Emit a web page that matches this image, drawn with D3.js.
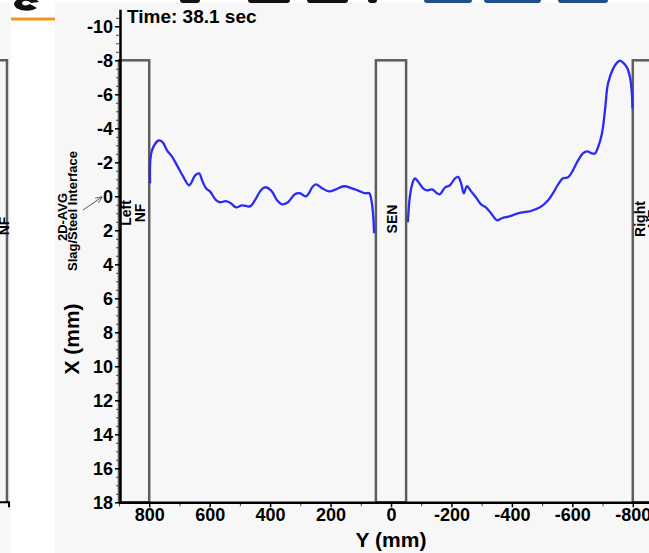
<!DOCTYPE html>
<html>
<head>
<meta charset="utf-8">
<script src="https://cdn.jsdelivr.net/npm/d3@7"></script>
<style>
  body { margin: 0; background: #fff; }
  svg { display: block; font-family: "Liberation Sans", Arial, sans-serif; }
</style>
</head>
<body>
<div id="chart"></div>
<script>
// chart size (window is 649 x 553)
const width = 649;
const height = 553;

// slag/steel interface, left half (Y in mm, X in mm)
const leftY = [797, 791, 768, 755, 741, 725, 708, 688, 668, 648, 635, 625, 612, 599, 579,
  566, 546, 530, 513, 493, 466, 450, 433, 417, 397, 377, 361, 341, 318, 302,
  281, 258, 248, 228, 205, 182, 156, 129, 110, 86, 72, 66, 59, 56];
const leftX = [-0.76, -2.70, -3.29, -3.17, -2.70, -2.35, -1.82, -1.17, -0.65, -1.23, -1.35, -0.94, -0.47, -0.29, 0.23,
  0.35, 0.29, 0.41, 0.65, 0.53, 0.59, 0.23, -0.29, -0.53, -0.35, 0.23, 0.47, 0.35, -0.12, -0.18,
  0, -0.59, -0.70, -0.47, -0.29, -0.41, -0.59, -0.47, -0.35, -0.18, -0.18, 0.12, 1.12, 2.17];

// right half
const rightY = [-56, -63, -73, -79, -89, -106, -119, -136, -152, -162, -179, -195, -212, -222, -232,
  -241, -251, -265, -281, -298, -314, -331, -351, -367, -394, -420, -437, -460, -493, -520,
  -536, -553, -569, -586, -602, -619, -635, -649, -665, -675, -685, -698, -708, -718, -735,
  -748, -758, -768, -781, -791, -797, -799];
const rightX = [1.53, -0.06, -0.88, -1.06, -0.88, -0.47, -0.35, -0.41, -0.18, -0.12, -0.53, -0.65, -1.06, -1.14, -0.76,
  -0.18, -0.59, -0.29, 0.06, 0.47, 0.65, 1.00, 1.41, 1.29, 1.17, 1.00, 0.94, 0.88, 0.65, 0.23,
  -0.18, -0.70, -1.06, -1.12, -1.53, -2.11, -2.52, -2.64, -2.52, -2.52, -2.88, -3.70, -5.05, -6.63, -7.51,
  -7.86, -7.98, -7.86, -7.57, -6.98, -6.04, -5.16];

// nozzle / narrow face boxes (Y range) and their labels
const boxStart = [900, 50, -800];
const boxEnd = [800, -50, -900];
const boxTop = -8;
const boxLabels = [["Left", "NF"], ["SEN"], ["Right", "NF"]];

// tick labels
const xTicks = [800, 600, 400, 200, 0, -200, -400, -600, -800];
const yTicks = [-10, -8, -6, -4, -2, 0, 2, 4, 6, 8, 10, 12, 14, 16, 18];

const svg = d3.select("#chart")
  .append("svg")
  .attr("width", width)
  .attr("height", height);

// page bits around the chart
svg.append("rect").attr("x", 0).attr("y", 0).attr("width", width).attr("height", height).attr("fill", "#fff");
svg.append("rect").attr("x", 0).attr("y", 3).attr("width", 11).attr("height", height).attr("fill", "#f7f7f7");
svg.append("rect").attr("x", 55).attr("y", 3).attr("width", width - 55).attr("height", height).attr("fill", "#f7f7f7");
svg.append("rect").attr("x", 11).attr("y", 17.5).attr("width", 44).attr("height", 3).attr("fill", "#f7931e");
svg.append("path").attr("d", "M39,2 C35,-4 15,-4 14,4 C15,12 32,12 37,8 L30,4 C27,6 22,6 22,3 C23,0 28,0 31,3 Z").attr("fill", "#111");
[[180, 20], [248, 42], [307, 41], [368, 9]].forEach(b => {
  svg.append("rect").attr("x", b[0]).attr("y", -4).attr("width", b[1]).attr("height", 7).attr("rx", 3).attr("fill", "#111");
});
[[424, 48], [484, 57], [558, 50]].forEach(b => {
  svg.append("rect").attr("x", b[0]).attr("y", -4).attr("width", b[1]).attr("height", 7).attr("rx", 3).attr("fill", "#1f4e89");
});

// scales
const x = d3.scaleLinear().domain([900, -900]).range([119, 663]);
const y = d3.scaleLinear().domain([-11, 18]).range([9.3, 502.3]);

// previous chart peeking in on the left
svg.append("path").attr("d", `M0,${y(boxTop)} H7 V${y(18)}`)
  .attr("fill", "none").attr("stroke", "#5e5e5e").attr("stroke-width", 2.5);
svg.append("path").attr("d", `M0,${y(18)} H10 M9,${y(18)} V${y(18) + 5}`)
  .attr("fill", "none").attr("stroke", "#000").attr("stroke-width", 2);
svg.append("text").attr("transform", `translate(9,226) rotate(-90)`)
  .attr("text-anchor", "middle").attr("font-size", 14).attr("font-weight", "bold").text("NF");

// boxes
svg.selectAll(".box")
  .data(boxStart)
  .enter()
  .append("rect")
    .attr("class", "box")
    .attr("x", (d, i) => x(d))
    .attr("y", y(boxTop))
    .attr("width", (d, i) => x(boxEnd[i]) - x(d))
    .attr("height", y(18) - y(boxTop))
    .attr("fill", "none")
    .attr("stroke", "#5e5e5e")
    .attr("stroke-width", 2.5);

// box labels (rotated, stacked)
boxStart.forEach((d, i) => {
  const lines = boxLabels[i];
  const cx = (i === 1) ? x(0) + 6 : x(d) + 12;
  lines.forEach((t, j) => {
    svg.append("text")
      .attr("transform", `translate(${cx + j * 13.5},${i === 0 ? 213 : 219}) rotate(-90)`)
      .attr("text-anchor", "middle")
      .attr("font-size", 14)
      .attr("font-weight", "bold")
      .text(t);
  });
});

// interface line
const line = d3.line()
  .x((d) => x(d[0]))
  .y((d) => y(d[1]))
  .curve(d3.curveCatmullRom.alpha(0.5));

[[leftY, leftX], [rightY, rightX]].forEach(s => {
  svg.append("path")
    .datum(s[0].map((v, i) => [v, s[1][i]]))
    .attr("d", line)
    .attr("fill", "none")
    .attr("stroke", "#2b2bf2")
    .attr("stroke-width", 2.3);
});

// minor ticks
svg.append("g")
  .attr("transform", `translate(${x(900)},0)`)
  .call(d3.axisLeft(y).tickValues(d3.range(-10.5, 18, 0.5).filter(v => v % 2 !== 0)).tickSize(3).tickFormat(""))
  .call(g => g.select(".domain").remove())
  .selectAll("line").attr("stroke", "#444");
svg.append("g")
  .attr("transform", `translate(0,${y(18)})`)
  .call(d3.axisBottom(x).tickValues([900, 700, 500, 300, 100, -100, -300, -500, -700, -900]).tickSize(4).tickFormat(""))
  .call(g => g.select(".domain").remove())
  .selectAll("line").attr("stroke", "#444");

// y-axis
svg.append("g")
  .attr("transform", `translate(${x(900) + 1},0)`)
  .call(d3.axisLeft(y).tickValues(yTicks).tickSize(5).tickSizeOuter(0).tickPadding(2).tickFormat(d => String(d)))
  .call(g => g.select(".domain").attr("stroke-width", 2.5))
  .call(g => g.selectAll(".tick line").attr("stroke-width", 1.5))
  .call(g => g.selectAll("text").attr("font-size", 18).attr("font-weight", "bold").attr("fill", "#000")
    .attr("font-family", "Liberation Sans, Arial, sans-serif"));

// x-axis
svg.append("g")
  .attr("transform", `translate(0,${y(18)})`)
  .call(d3.axisBottom(x).tickValues(xTicks).tickSize(5).tickSizeOuter(0).tickPadding(1).tickFormat(d => String(d)))
  .call(g => g.select(".domain").attr("stroke-width", 2.5))
  .call(g => g.selectAll(".tick line").attr("stroke-width", 1.5))
  .call(g => g.selectAll("text").attr("font-size", 18).attr("font-weight", "bold").attr("fill", "#000")
    .attr("font-family", "Liberation Sans, Arial, sans-serif"));

// axis titles
svg.append("text")
  .attr("x", x(0)).attr("y", 547)
  .attr("text-anchor", "middle").attr("font-size", 21).attr("font-weight", "bold")
  .text("Y (mm)");
svg.append("text")
  .attr("transform", "translate(79,339) rotate(-90)")
  .attr("text-anchor", "middle").attr("font-size", 21).attr("font-weight", "bold")
  .text("X (mm)");

// time stamp
svg.append("text")
  .attr("x", 127).attr("y", 23)
  .attr("font-size", 19).attr("font-weight", "bold")
  .text("Time: 38.1 sec");

// annotation with arrow
svg.append("defs").append("marker")
  .attr("id", "arrow").attr("viewBox", "0 0 10 10").attr("refX", 9).attr("refY", 5)
  .attr("markerWidth", 7).attr("markerHeight", 7).attr("orient", "auto")
  .append("path").attr("d", "M0,1 L10,5 L0,9").attr("fill", "none").attr("stroke", "#555").attr("stroke-width", 1.2);
svg.append("line")
  .attr("x1", 83).attr("y1", 210).attr("x2", 102).attr("y2", 197)
  .attr("stroke", "#555").attr("stroke-width", 1).attr("marker-end", "url(#arrow)");
svg.append("text")
  .attr("transform", "translate(67,217) rotate(-90)")
  .attr("text-anchor", "middle").attr("font-size", 13).attr("font-weight", "bold")
  .text("2D-AVG");
svg.append("text")
  .attr("transform", "translate(77,211) rotate(-90)")
  .attr("text-anchor", "middle").attr("font-size", 13).attr("font-weight", "bold")
  .text("Slag/Steel Interface");
</script>
</body>
</html>
